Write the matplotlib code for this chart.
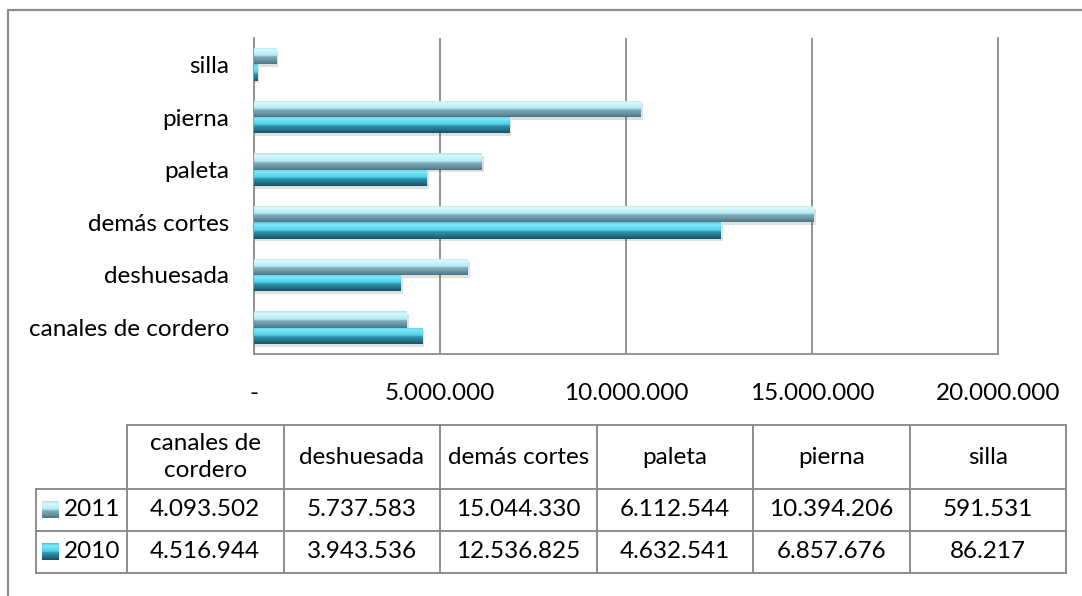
import numpy as np
import matplotlib
matplotlib.use("Agg")
import matplotlib.pyplot as plt
from matplotlib.colors import LinearSegmentedColormap
from matplotlib.lines import Line2D
from matplotlib.ticker import FuncFormatter

plt.rcParams['font.family'] = ['Lato', 'DejaVu Sans']

# data (bottom to top on the chart, left to right in the table)
categories = ['canales de cordero', 'deshuesada', 'demás cortes', 'paleta', 'pierna', 'silla']
header_labels = ['canales de\ncordero', 'deshuesada', 'demás cortes', 'paleta', 'pierna', 'silla']
values_2011 = [4093502, 5737583, 15044330, 6112544, 10394206, 591531]
values_2010 = [4516944, 3943536, 12536825, 4632541, 6857676, 86217]
series_names = ['2011', '2010']
x_ticks = [0, 5000000, 10000000, 15000000, 20000000]

W, H = 1082, 596
FS = 17.5
GRAY = '#8c8c8c'

cmap_2011 = LinearSegmentedColormap.from_list('c2011', [
    (0.0, '#4a7683'), (0.2, '#6892a0'), (0.42, '#7fadb9'),
    (0.52, '#b4e9f3'), (0.85, '#d6faff'), (1.0, '#b0dee7')])
cmap_2010 = LinearSegmentedColormap.from_list('c2010', [
    (0.0, '#195163'), (0.2, '#24738a'), (0.42, '#2f93ad'),
    (0.52, '#4fd0ea'), (0.85, '#80e9fa'), (1.0, '#4cc7df')])


def fmt(v):
    return f"{v:,}".replace(",", ".")


def fx(px):
    return px / W


def fy(py):
    return 1 - py / H


def gradient_bars(ax, bars, cmap):
    grad = np.linspace(0, 1, 64).reshape(-1, 1)
    for b in bars:
        x0, y0 = b.get_x(), b.get_y()
        w, h = b.get_width(), b.get_height()
        # soft shadow under the bar
        ax.add_patch(plt.Rectangle((x0, y0 - 0.05), w + 60000, h, color='black',
                                   alpha=0.12, lw=0, zorder=2))
        im = ax.imshow(grad, cmap=cmap, extent=[x0, x0 + w, y0, y0 + h],
                       aspect='auto', origin='lower', zorder=3, interpolation='bilinear')
        im.set_clip_path(b)


fig = plt.figure(figsize=(W / 100, H / 100), dpi=100)
ax = fig.add_axes([fx(254), fy(354), fx(998) - fx(254), fy(38) - fy(354)])

y = np.arange(len(categories))
h = 0.31
bars_2011 = ax.barh(y + h / 2, values_2011, height=h, color='none', lw=0, zorder=3)
bars_2010 = ax.barh(y - h / 2, values_2010, height=h, color='none', lw=0, zorder=3)
gradient_bars(ax, bars_2011, cmap_2011)
gradient_bars(ax, bars_2010, cmap_2010)

ax.set_xlim(0, 20000000)
ax.set_ylim(-0.5, len(categories) - 0.5)
ax.set_xticks(x_ticks)
ax.xaxis.set_major_formatter(FuncFormatter(lambda v, p: '-' if v == 0 else fmt(int(v))))
ax.set_yticks(y)
ax.set_yticklabels(categories)
ax.tick_params(axis='x', length=0, pad=21, labelsize=FS)
ax.tick_params(axis='y', length=0, pad=18, labelsize=FS)
ax.grid(axis='x', color=GRAY, lw=1.3, zorder=0)
ax.set_axisbelow(True)
for s in ['left', 'bottom', 'right']:
    ax.spines[s].set_color(GRAY)
    ax.spines[s].set_linewidth(1.3)
ax.spines['top'].set_visible(False)

# outer chart border (top and left only visible)
fig.add_artist(Line2D([fx(8), fx(8), fx(1082)], [fy(596), fy(10), fy(10)],
                      color=GRAY, lw=1.6, transform=fig.transFigure))

# data table
col_edges = np.linspace(127, 1066, len(categories) + 1)
row_edges = [425, 489, 531, 573]
lk = dict(color=GRAY, lw=1.4, transform=fig.transFigure)
fig.add_artist(Line2D([fx(127), fx(1066)], [fy(425)] * 2, **lk))
for r in row_edges[1:]:
    fig.add_artist(Line2D([fx(36), fx(1066)], [fy(r)] * 2, **lk))
fig.add_artist(Line2D([fx(36)] * 2, [fy(489), fy(573)], **lk))
for c in col_edges:
    fig.add_artist(Line2D([fx(c)] * 2, [fy(425), fy(573)], **lk))

for i, lab in enumerate(header_labels):
    cx = (col_edges[i] + col_edges[i + 1]) / 2
    fig.text(fx(cx), fy((row_edges[0] + row_edges[1]) / 2), lab, ha='center', va='center',
             fontsize=FS, linespacing=1.4)
    for j, vals in enumerate([values_2011, values_2010]):
        cy = (row_edges[j + 1] + row_edges[j + 2]) / 2
        fig.text(fx(cx), fy(cy), fmt(vals[i]), ha='center', va='center', fontsize=FS)

grad = np.linspace(0, 1, 32).reshape(-1, 1)
for j, (name, cmap) in enumerate(zip(series_names, [cmap_2011, cmap_2010])):
    cy = (row_edges[j + 1] + row_edges[j + 2]) / 2
    kax = fig.add_axes([fx(42), fy(cy + 8), fx(17), fy(0) - fy(17)])
    kax.imshow(grad, cmap=cmap, aspect='auto', origin='lower')
    kax.axis('off')
    fig.text(fx(64), fy(cy), name, ha='left', va='center', fontsize=FS)

fig.savefig('out.png', dpi=100)
